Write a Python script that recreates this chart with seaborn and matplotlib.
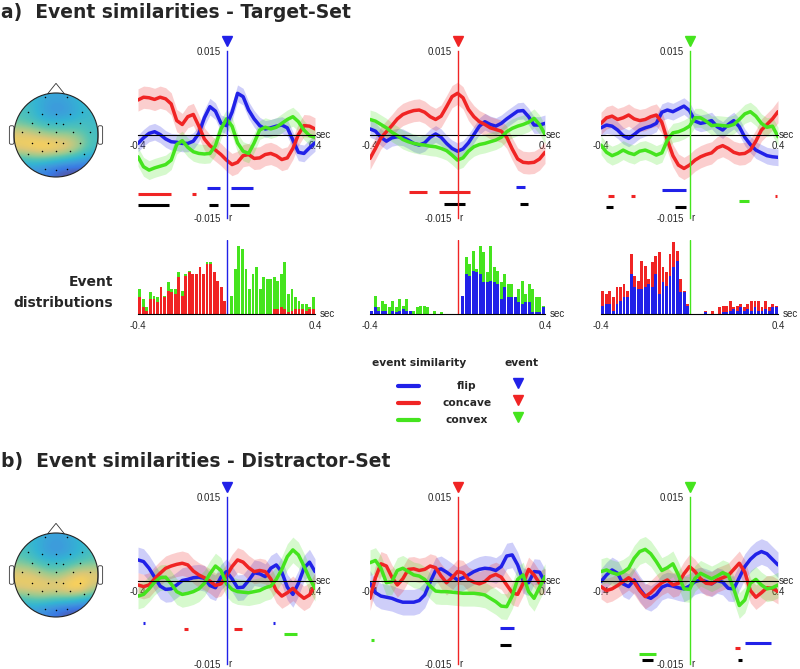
import numpy as np
import pandas as pd
import matplotlib
matplotlib.use("Agg")
import matplotlib.pyplot as plt
import seaborn as sns
from matplotlib.colors import LinearSegmentedColormap
from matplotlib.patches import Circle, Polygon, FancyBboxPatch

sns.set_style("white")
plt.rcParams["font.family"] = ["DejaVu Sans"]

W, H = 800, 669

# ---------------- data ----------------
# time axis of the event similarity curves (sec)
t = np.linspace(-0.4, 0.4, 33)

# event similarity curves, units of 1e-3 r
a1_flip = [-1.6,-0.6,0.2,0.5,0.0,-0.8,-1.3,-1.4,-1.6,-1.6,-1.2,0.2,3.0,5.0,4.2,2.0,1.6,4.0,7.4,6.8,4.4,2.8,1.6,1.0,1.2,1.5,1.7,1.2,-1.0,-3.2,-3.4,-2.4,-1.5]
a1_concave = [6.2,6.7,6.6,6.3,6.7,6.4,5.5,2.5,1.8,3.2,3.6,1.5,-0.8,-2.0,-2.8,-3.6,-4.6,-5.4,-5.0,-3.8,-3.6,-4.3,-4.2,-3.6,-3.4,-3.8,-4.5,-4.2,-2.5,0.0,1.6,1.5,1.0]
a1_convex = [-4.0,-5.8,-6.4,-6.0,-5.7,-5.4,-4.6,-1.8,-1.1,-2.3,-3.1,-3.4,-3.5,-3.4,-2.0,1.0,2.8,1.5,-1.5,-3.0,-3.4,-1.5,0.8,1.3,1.0,1.3,2.0,2.7,3.2,2.3,0.8,-0.2,-0.5]

a2_flip = [1.0,0.6,-0.5,-1.2,-0.6,-0.4,-0.5,-1.0,-1.6,-1.9,-1.5,-0.5,0.1,-0.5,-1.6,-2.5,-3.0,-2.6,-1.5,0.0,1.5,2.3,1.8,1.5,2.0,2.8,3.5,4.2,4.3,3.2,1.7,1.7,2.0]
a2_concave = [-4.3,-2.5,-0.6,0.5,1.6,2.8,3.6,4.0,4.3,4.4,4.0,3.2,2.7,3.3,5.0,6.8,7.4,6.6,4.5,3.2,2.3,1.8,1.2,0.9,0.6,-0.5,-2.6,-4.4,-5.0,-5.1,-5.0,-4.4,-3.2]
a2_convex = [2.7,2.4,1.8,1.2,0.4,-0.2,-0.9,-1.3,-1.6,-1.8,-1.9,-2.1,-2.2,-2.5,-2.9,-3.7,-4.6,-4.2,-3.0,-2.2,-1.8,-1.6,-1.3,-1.0,-0.5,0.5,1.1,1.5,1.8,2.2,2.9,1.8,0.0]

a3_flip = [1.2,1.7,1.5,0.8,-0.2,-0.7,0.0,0.8,1.2,1.5,2.0,4.0,4.4,4.1,4.6,5.1,4.3,2.4,2.0,2.2,2.5,1.4,0.8,1.8,2.5,1.4,-0.5,-1.8,-2.8,-3.3,-3.8,-4.0,-4.1]
a3_concave = [2.0,3.0,3.3,2.7,3.0,3.5,2.8,2.5,2.7,3.2,3.5,2.2,-1.0,-3.8,-5.5,-6.1,-5.5,-4.6,-4.0,-3.6,-3.3,-2.4,-2.0,-2.5,-3.2,-3.5,-3.4,-2.8,-1.2,0.8,1.8,2.8,4.1]
a3_convex = [-1.9,-3.2,-3.8,-3.4,-2.8,-3.3,-3.6,-3.0,-2.8,-3.2,-3.7,-3.3,-1.0,0.3,0.5,0.9,1.5,3.0,3.0,2.4,1.6,1.7,1.6,1.5,1.8,2.7,3.7,4.1,3.3,2.0,1.3,1.5,-0.4]

b1_flip = [3.7,3.4,2.2,0.6,-1.0,-1.6,-1.5,-0.8,0.0,0.2,0.5,0.6,0.4,-0.9,-1.3,0.6,1.6,0.3,-1.3,-1.2,0.0,1.4,1.2,0.7,2.2,2.8,1.5,-1.2,-2.5,-0.5,2.2,3.3,1.6]
b1_concave = [-0.8,-1.1,-0.8,0.3,1.3,2.2,2.6,2.9,3.1,2.8,1.7,1.0,0.5,-0.1,-0.9,-0.6,0.8,2.5,3.7,3.3,2.3,1.6,1.8,1.6,0.3,-1.8,-2.8,-2.2,-1.4,-2.4,-3.2,-2.6,-0.8]
b1_convex = [-2.8,-2.5,-1.5,-0.3,0.5,0.6,-0.6,-2.0,-2.5,-2.3,-2.0,-1.5,-0.5,1.2,2.6,1.8,-0.6,-1.6,-2.0,-2.1,-2.2,-2.0,-1.8,-1.3,-1.0,0.2,2.0,4.3,5.5,4.6,2.6,0.4,-1.4]

b2_flip = [-0.5,-2.2,-2.8,-3.0,-3.2,-3.6,-3.9,-3.9,-3.9,-3.6,-2.6,-0.3,1.8,2.1,1.5,0.8,0.1,0.5,1.0,1.6,2.0,2.2,2.1,1.8,2.5,4.4,4.6,2.8,0.0,-0.4,1.6,1.5,-0.3]
b2_concave = [-3.2,0.5,3.0,2.6,0.6,-0.8,0.3,2.0,2.1,1.8,2.0,2.6,2.3,0.8,-0.4,0.5,1.6,1.4,0.2,-0.3,-0.6,-0.2,0.7,1.1,0.6,-0.8,-2.2,-2.5,-0.5,2.0,1.0,-0.5,0.0]
b2_convex = [3.2,3.6,2.2,-0.4,-0.2,1.8,2.2,1.6,1.0,0.8,0.2,-1.0,-1.9,-2.0,-2.0,-2.1,-2.2,-2.3,-2.3,-2.3,-2.4,-2.6,-3.2,-3.8,-4.6,-4.7,-2.8,0.2,1.0,-2.0,-3.2,-1.2,0.7]

b3_flip = [-0.2,1.0,1.9,1.3,-0.6,-1.1,0.1,-1.5,-2.8,-3.2,-2.5,-1.2,-0.8,-1.0,-1.3,-1.5,-1.0,-0.2,0.1,-0.2,-0.6,0.0,-0.3,-1.4,-1.5,0.5,2.5,3.8,4.7,5.2,4.8,3.8,2.8]
b3_concave = [-1.1,-1.8,-1.5,-0.9,-0.2,0.5,-0.3,-1.8,-2.9,-2.2,-1.2,-0.4,0.1,-0.8,-0.5,1.2,2.5,1.6,0.3,-0.5,-0.6,0.1,0.5,0.9,2.0,3.1,1.5,-1.8,-3.0,-2.2,-1.3,-1.4,-2.0]
b3_convex = [1.6,1.9,1.4,1.1,1.5,2.2,4.0,5.2,5.6,4.8,3.4,1.8,2.3,3.0,1.0,-1.5,-1.6,0.4,1.3,0.8,0.3,0.8,1.4,1.0,-1.5,-4.5,-3.5,-0.5,0.2,-0.8,-1.5,-1.3,-0.8]

# half width of the shaded error bands (1e-3 r)
band_a = {"flip": 1.5, "concave": 2.0, "convex": 1.7}
band_b = {"flip": 2.3, "concave": 2.2, "convex": 2.3}

# significant time windows (sec)
sig_a1 = {"flip": [(-0.09, -0.03), (0.02, 0.12)], "concave": [(-0.4, -0.25), (-0.157, -0.139)],
          "convex": [], "all": [(-0.4, -0.26), (-0.078, -0.038), (0.015, 0.103)]}
sig_a2 = {"flip": [(0.267, 0.309)], "concave": [(-0.222, -0.139), (-0.085, 0.057)],
          "convex": [], "all": [(-0.062, 0.034), (0.286, 0.322)]}
sig_a3 = {"flip": [(-0.126, -0.014)], "concave": [(-0.37, -0.34), (-0.265, -0.247), (0.388, 0.397)],
          "convex": [(0.224, 0.269)], "all": [(-0.379, -0.346), (-0.066, -0.018)]}
sig_b1 = {"flip": [(-0.379, -0.368), (0.212, 0.219)], "concave": [(-0.191, -0.175), (0.034, 0.069)],
          "convex": [(0.261, 0.317)], "all": []}
sig_b2 = {"flip": [(0.194, 0.258)], "concave": [], "convex": [(-0.395, -0.382)], "all": [(0.194, 0.243)]}
sig_b3 = {"flip": [(0.253, 0.37)], "concave": [(0.205, 0.23)], "convex": [(-0.229, -0.151)],
          "all": [(-0.215, -0.166), (0.22, 0.238)]}

# event distributions, 50 bins from -0.4 to 0.4 sec
h1_concave = [10,4,2,9,9,7,16,10,14,13,12,22,11,23,25,24,24,28,24,30,30,25,20,16,8,0,0,0,0,0,0,0,0,0,0,0,0,0,3,3,4,3,1,2,3,3,3,2,3,3]
h1_convex = [5,5,2,4,2,3,0,1,5,2,3,3,3,1,1,0,0,0,0,1,1,0,0,0,0,0,11,27,41,39,27,15,24,28,15,22,21,21,19,17,20,28,11,13,7,5,3,4,1,7]
h2_flip = [2,4,2,2,2,0,2,1,2,3,2,2,0,0,0,0,0,0,0,0,0,0,0,0,0,0,11,24,23,26,25,24,19,19,20,19,18,9,16,10,10,10,7,6,7,7,1,1,1,4]
h2_convex = [0,7,2,6,4,4,6,3,7,2,7,0,2,4,5,5,4,0,2,0,1,0,0,0,0,0,0,10,7,12,2,17,18,6,21,9,8,10,8,8,8,0,8,14,5,11,14,9,9,1]
h3_flip = [5,6,6,2,6,8,10,10,24,16,15,15,16,18,16,24,12,19,17,23,28,32,13,13,5,0,0,0,0,1,0,0,0,0,1,1,2,3,2,4,2,3,2,4,2,2,3,2,4,4]
h3_concave = [9,6,8,8,10,8,8,4,12,7,5,17,13,3,15,11,25,9,8,13,15,6,8,1,1,0,0,0,0,1,0,2,0,4,4,4,6,1,3,2,2,3,6,4,6,2,5,2,2,1]
bin_w = 0.016
centers = np.linspace(-0.4 + bin_w / 2, 0.4 - bin_w / 2, 50)

# topographies: coarse grids (rows front to back) and electrode positions
topo_a = [[0.42, 0.40, 0.33, 0.30, 0.33, 0.40, 0.42],
          [0.48, 0.42, 0.28, 0.22, 0.26, 0.36, 0.42],
          [0.52, 0.46, 0.40, 0.38, 0.40, 0.43, 0.42],
          [0.80, 0.76, 0.66, 0.62, 0.62, 0.56, 0.45],
          [0.84, 0.90, 0.97, 0.92, 0.84, 0.66, 0.46],
          [0.45, 0.50, 0.50, 0.45, 0.40, 0.33, 0.28],
          [0.20, 0.22, 0.15, 0.06, 0.00, 0.00, 0.00]]
topo_b = [[0.42, 0.40, 0.32, 0.28, 0.32, 0.40, 0.42],
          [0.48, 0.40, 0.28, 0.22, 0.28, 0.37, 0.45],
          [0.56, 0.50, 0.42, 0.40, 0.44, 0.50, 0.54],
          [0.80, 0.78, 0.66, 0.60, 0.70, 0.82, 0.80],
          [0.80, 0.84, 0.86, 0.84, 0.92, 0.97, 0.72],
          [0.46, 0.52, 0.54, 0.50, 0.50, 0.42, 0.36],
          [0.24, 0.26, 0.18, 0.10, 0.02, 0.00, 0.00]]
elec_x = [-0.26, 0.25, -0.66, -0.34, 0.0, 0.33, 0.63, -0.58, -0.2, 0.0, 0.17, 0.57,
          -0.82, -0.4, 0.0, 0.41, 0.81, -0.58, -0.2, 0.0, 0.17, 0.57,
          -0.66, -0.34, 0.0, 0.33, 0.66, -0.26, 0.0, 0.25]
elec_y = [0.91, 0.91, 0.54, 0.49, 0.49, 0.49, 0.54, 0.29, 0.27, 0.29, 0.27, 0.29,
          0.06, 0.06, 0.06, 0.06, 0.06, -0.18, -0.18, -0.17, -0.18, -0.18,
          -0.46, -0.38, -0.38, -0.38, -0.46, -0.80, -0.83, -0.80]

kinds = ["flip", "concave", "convex"]
cols = {"flip": "#2121e8", "concave": "#f02424", "convex": "#45e41e", "all": "black"}
parula = LinearSegmentedColormap.from_list(
    "parula", ["#352a87", "#0f5cdd", "#1481d6", "#06a4ca", "#2eb7a4",
               "#87bf77", "#d1bb59", "#fec832", "#f9fb0e"])
tick_font = "Liberation Sans"

fig = plt.figure(figsize=(W / 100, H / 100), dpi=100)


def px_ax(x0, x1, y0, y1):
    # axes from pixel box (top-left origin)
    return fig.add_axes([x0 / W, 1 - y1 / H, (x1 - x0) / W, (y1 - y0) / H])


def sim_panel(ax, curves, band, ev, sig, row0):
    for k in kinds:
        y = np.asarray(curves[k]) / 1000
        ax.fill_between(t, y - band[k] / 1000, y + band[k] / 1000,
                        color=cols[k], alpha=0.22, lw=0)
    for k in kinds:
        sns.lineplot(x=t, y=np.asarray(curves[k]) / 1000, color=cols[k],
                     lw=2.5, ax=ax)
    for j, k in enumerate(kinds + ["all"]):
        for a, b in sig[k]:
            ax.hlines((row0 - j) / 1000, a, b, color=cols[k], lw=2.2)
    ax.set_xlim(-0.4, 0.4)
    ax.set_ylim(-0.015, 0.015)
    ax.patch.set_alpha(0)
    for s in ["top", "right"]:
        ax.spines[s].set_visible(False)
    ax.spines["left"].set_position(("data", 0))
    ax.spines["left"].set_color(cols[ev])
    ax.spines["left"].set_linewidth(1.0)
    ax.spines["left"].set_zorder(5)
    ax.spines["bottom"].set_position(("data", 0))
    ax.spines["bottom"].set_color("black")
    ax.spines["bottom"].set_linewidth(0.8)
    ax.set_xticks([-0.4, 0.4], ["-0.4", "0.4"])
    ax.set_yticks([-0.015, 0.015], ["-0.015", "0.015"])
    ax.tick_params(axis="x", length=0, pad=5, labelsize=7, labelfontfamily=tick_font)
    ax.tick_params(axis="y", length=2.5, pad=1.5, labelsize=7, labelfontfamily=tick_font,
                   color="#444444")
    ax.set_xlabel("")
    ax.set_ylabel("")
    ax.plot(0, 0.0168, marker="v", ms=7, color=cols[ev], clip_on=False, zorder=6)
    ax.text(0.405, 0, "sec", fontsize=7, va="center", ha="left", family=tick_font)
    ax.text(0.01, -0.015, "r", fontsize=7, va="center", ha="left", family=tick_font)


def hist_panel(ax, top, bottom, k_top, k_bottom, ev):
    df = pd.DataFrame({"t": np.concatenate([centers, centers]),
                       "n": np.concatenate([top, bottom]),
                       "kind": [k_top] * len(centers) + [k_bottom] * len(centers)})
    sns.histplot(data=df, x="t", weights="n", hue="kind", hue_order=[k_top, k_bottom],
                 multiple="stack", binwidth=bin_w, binrange=(-0.4, 0.4), palette=cols,
                 shrink=0.8, alpha=1, linewidth=0, legend=False, ax=ax)
    ax.axvline(0, color=cols[ev], lw=1.0)
    ax.set_xlim(-0.4, 0.4)
    ax.set_ylim(0, 44.4)
    ax.patch.set_alpha(0)
    for s in ["top", "right", "left"]:
        ax.spines[s].set_visible(False)
    ax.spines["bottom"].set_color("black")
    ax.spines["bottom"].set_linewidth(0.8)
    ax.set_yticks([])
    ax.set_xticks([-0.4, 0.4], ["-0.4", "0.4"])
    ax.tick_params(axis="x", length=0, pad=5, labelsize=7, labelfontfamily=tick_font)
    ax.set_xlabel("")
    ax.set_ylabel("")
    ax.text(0.42, 0, "sec", fontsize=7, va="center", ha="left", family=tick_font)


def head(ax, grid):
    ax.set_xlim(-1.333, 1.333)
    ax.set_ylim(-1.333, 1.333)
    ax.axis("off")
    im = ax.imshow(np.array(grid), extent=(-1, 1, -1, 1), cmap=parula, vmin=0, vmax=1,
                   interpolation="bicubic", alpha=0.82)
    clip = Circle((0, 0), 1.0, transform=ax.transData)
    im.set_clip_path(clip)
    for sx in (-1, 1):
        ax.add_patch(FancyBboxPatch((min(sx * 1.0, sx * 1.11), -0.22), 0.11, 0.44,
                                    boxstyle="round,pad=0,rounding_size=0.04",
                                    fc="white", ec="#333333", lw=0.6))
    ax.add_patch(Polygon([(-0.2, 0.98), (0, 1.23), (0.2, 0.98)], closed=False,
                         fill=False, ec="#333333", lw=0.6))
    ax.add_patch(Circle((0, 0), 1.0, fill=False, ec="#222222", lw=0.8))
    ax.scatter(elec_x, elec_y, s=1.2, c="black", lw=0)


columns = [(138, 315), (370, 545), (601, 778)]
panel_a = [({"flip": a1_flip, "concave": a1_concave, "convex": a1_convex}, "flip", sig_a1, -9.6),
           ({"flip": a2_flip, "concave": a2_concave, "convex": a2_convex}, "concave", sig_a2, -9.4),
           ({"flip": a3_flip, "concave": a3_concave, "convex": a3_convex}, "convex", sig_a3, -10.0)]
panel_b = [({"flip": b1_flip, "concave": b1_concave, "convex": b1_convex}, "flip", sig_b1, -7.7),
           ({"flip": b2_flip, "concave": b2_concave, "convex": b2_convex}, "concave", sig_b2, -8.6),
           ({"flip": b3_flip, "concave": b3_concave, "convex": b3_convex}, "convex", sig_b3, -11.2)]

for (x0, x1), (curves, ev, sig, row0) in zip(columns, panel_a):
    sim_panel(px_ax(x0, x1, 51, 218), curves, band_a, ev, sig, row0)
for (x0, x1), (curves, ev, sig, row0) in zip(columns, panel_b):
    sim_panel(px_ax(x0, x1, 497, 664), curves, band_b, ev, sig, row0)

hists = [(h1_convex, h1_concave, "convex", "concave", "flip"),
         (h2_convex, h2_flip, "convex", "flip", "concave"),
         (h3_concave, h3_flip, "concave", "flip", "convex")]
for (x0, x1), (top, bottom, kt, kb, ev) in zip(columns, hists):
    hist_panel(px_ax(x0, x1, 240, 314), top, bottom, kt, kb, ev)

head(px_ax(0, 112, 79, 191), topo_a)
head(px_ax(0, 112, 519, 631), topo_b)

# titles
fig.text(1 / W, 1 - 13 / H, "a)  Event similarities - Target-Set", fontsize=13.5,
         weight="bold", va="center", ha="left")
fig.text(1 / W, 1 - 462 / H, "b)  Event similarities - Distractor-Set", fontsize=13.5,
         weight="bold", va="center", ha="left")
fig.text(113 / W, 1 - 282 / H, "Event", fontsize=10, weight="bold", ha="right", va="center")
fig.text(113 / W, 1 - 303 / H, "distributions", fontsize=10, weight="bold", ha="right", va="center")

# legend
lg = px_ax(360, 560, 350, 430)
lg.set_xlim(360, 560)
lg.set_ylim(430, 350)
lg.axis("off")
lg.text(419, 363, "event similarity", fontsize=7.7, weight="bold", ha="center", va="center")
lg.text(522, 363, "event", fontsize=7.7, weight="bold", ha="center", va="center")
for i, k in enumerate(kinds):
    yy = 386 + 17 * i
    lg.plot([398, 419], [yy, yy], color=cols[k], lw=3, solid_capstyle="round")
    lg.text(467, yy, k, fontsize=7.7, weight="bold", ha="center", va="center")
    lg.plot(518, yy - 3, marker="v", ms=7, color=cols[k])

fig.savefig("out.png", dpi=100)
